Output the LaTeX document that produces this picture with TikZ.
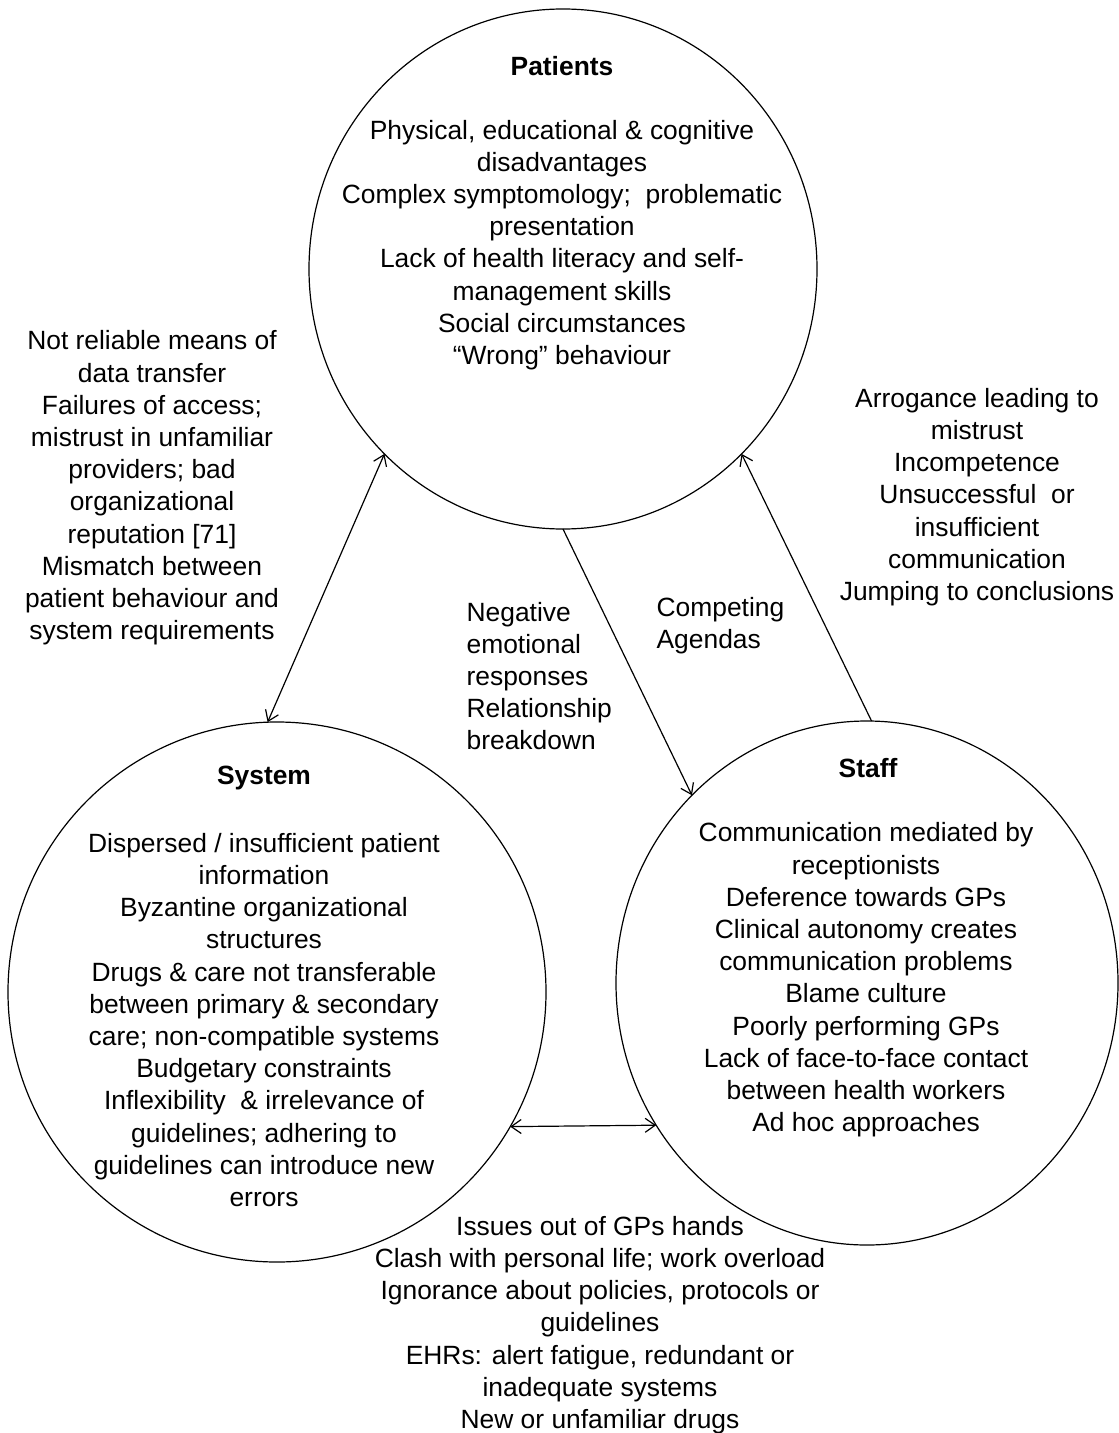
\documentclass[tikz,border=0pt]{standalone}
\usepackage{fontspec}
\setmainfont{Liberation Sans}
\usetikzlibrary{shapes.geometric,arrows.meta}

\tikzset{
  ring/.style={draw, ellipse, inner sep=0pt, outer sep=0pt},
  head/.style={inner sep=0pt, font=\fontsize{13.2}{16.1}\selectfont\bfseries},
  txt/.style={align=center, inner sep=0pt, font=\fontsize{13.2}{16.1}\selectfont},
  txtl/.style={align=left, anchor=west, inner sep=0pt, font=\fontsize{13.2}{16.1}\selectfont},
}

\begin{document}
\begin{tikzpicture}[x=0.5pt, y=-0.5pt, line width=0.6pt,
  >={Straight Barb[length=5pt,width=7pt]}]
\useasboundingbox (0,0) rectangle (1118,1433);

% circles
\node[ring, minimum width=254pt, minimum height=260pt] (pat) at (563,269) {};
\node[ring, minimum width=269pt, minimum height=270pt] (sys) at (277,992) {};
\node[ring, minimum width=251pt, minimum height=262pt] (staff) at (867,983) {};

% patients
\node[head] (patHead) at (562,66) {Patients};
\node[txt] (patBody) at (562,245) {Physical, educational \& cognitive\\disadvantages\\Complex symptomology;~ problematic\\presentation\\Lack of health literacy and self-\\management skills\\Social circumstances\\“Wrong” behaviour};

% system
\node[head] (sysHead) at (264,778) {System};
\node[txt] (sysBody) at (264,1020) {Dispersed / insufficient patient\\information\\Byzantine organizational\\structures\\Drugs \& care not transferable\\between primary \& secondary\\care; non-compatible systems\\Budgetary constraints\\Inflexibility ~\& irrelevance of\\guidelines; adhering to\\guidelines can introduce new\\errors};

% staff
\node[head] (staffHead) at (868,768) {Staff};
\node[txt] (staffBody) at (866,980) {Communication mediated by\\receptionists\\Deference towards GPs\\Clinical autonomy creates\\communication problems\\Blame culture\\Poorly performing GPs\\Lack of face-to-face contact\\between health workers\\Ad hoc approaches};

% notes between the circles
\node[txt] (leftNote) at (152,488) {Not reliable means of\\data transfer\\Failures of access;\\mistrust in unfamiliar\\providers; bad\\organizational\\reputation [71]\\Mismatch between\\patient behaviour and\\system requirements};
\node[txt] (rightNote) at (977,497) {Arrogance leading to\\mistrust\\Incompetence\\Unsuccessful~ or\\insufficient\\communication\\Jumping to conclusions};
\node[txtl] (midNote) at (466,676) {Negative\\emotional\\responses\\Relationship\\breakdown};
\node[txtl] (agenda) at (656,626) {Competing\\Agendas};
\node[txt] (bottomNote) at (600,1325) {Issues out of GPs hands\\Clash with personal life; work overload\\Ignorance about policies, protocols or\\guidelines\\EHRs: alert fatigue, redundant or\\inadequate systems\\New or unfamiliar drugs};

% links
\draw[<->] (pat.226) -- (sys.92.5);
\draw[->] (pat.270) -- (staff.133);
\draw[->] (staff.89) -- (pat.314.4);
\draw[<->] (sys.330.4) -- (staff.214);

\end{tikzpicture}
\end{document}
